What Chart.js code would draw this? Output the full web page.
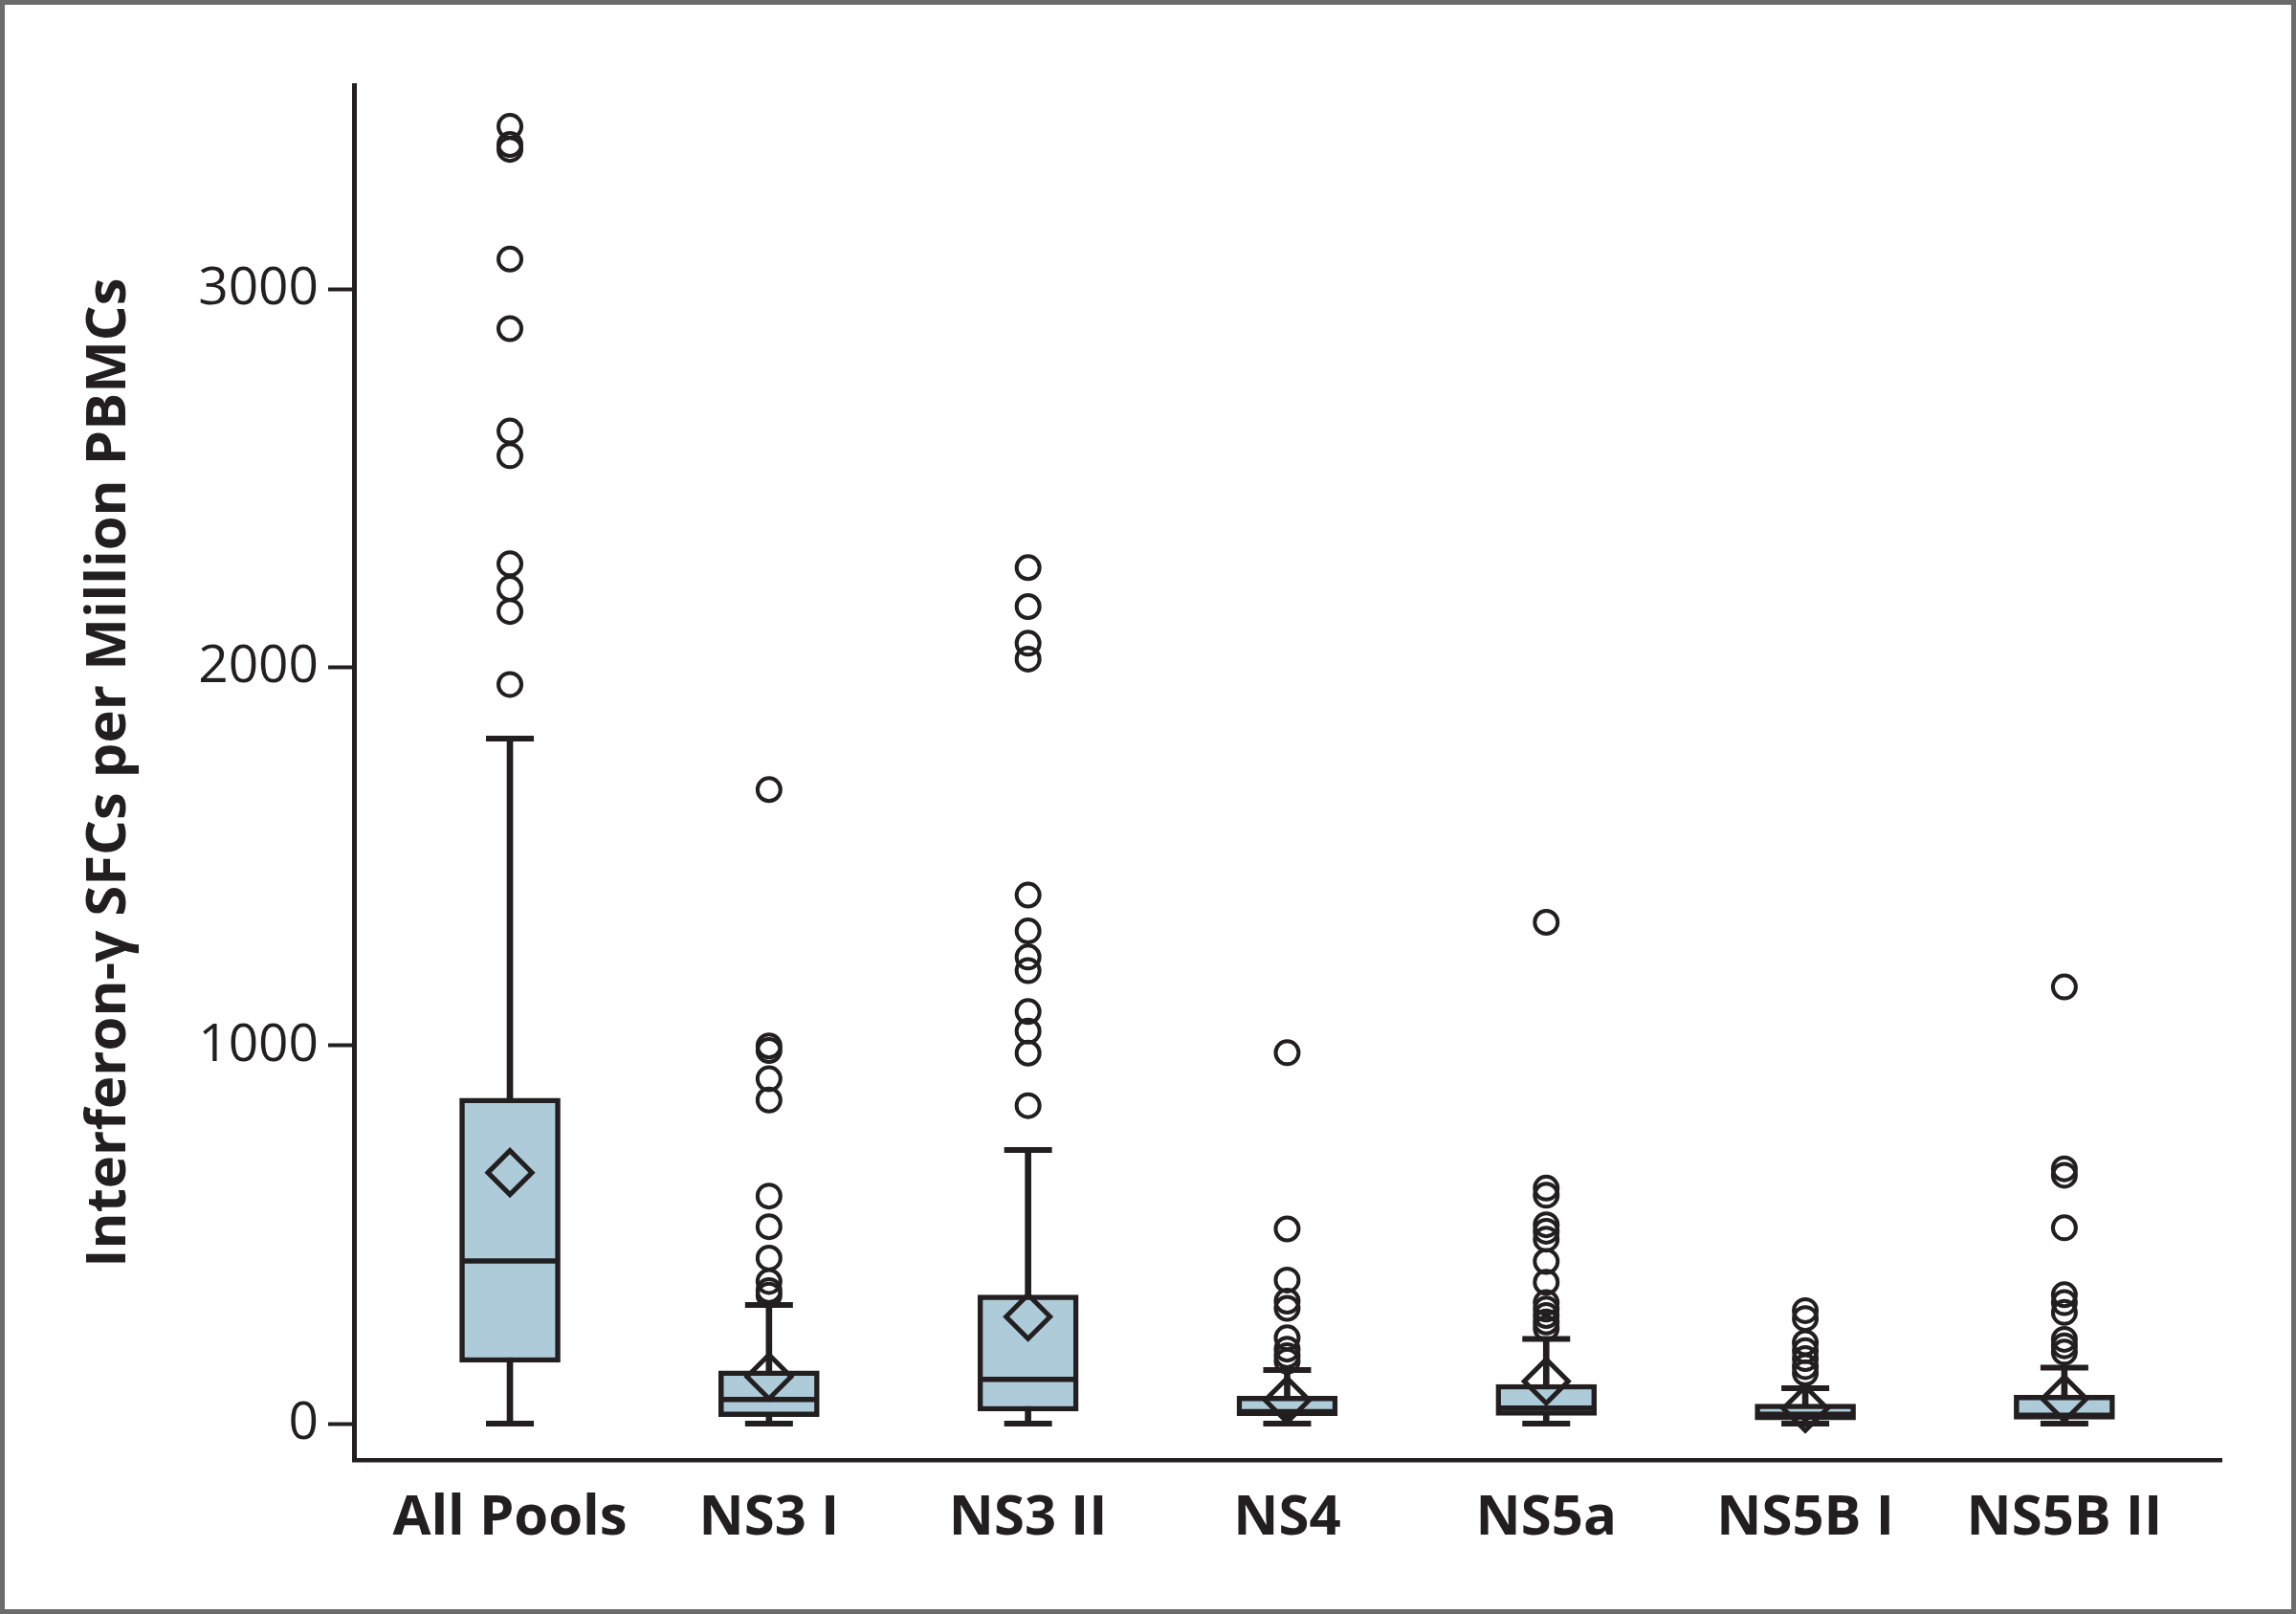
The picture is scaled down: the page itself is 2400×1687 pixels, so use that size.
<!DOCTYPE html>
<html>
<head>
<meta charset="utf-8">
<script src="https://cdn.jsdelivr.net/npm/chart.js@4.4.1/dist/chart.umd.min.js"></script>
<style>
	html, body { margin: 0; padding: 0; background: #fff; }
	#frame { width: 2400px; height: 1687px; box-sizing: border-box; border: 5px solid #6b6b6b; background: #fff; }
	#wrap { position: relative; width: 2390px; height: 1677px; }
</style>
</head>
<body>
<div id="frame"><div id="wrap"><canvas id="chart"></canvas></div></div>
<script>
// values
const categories = ["All Pools", "NS3 I", "NS3 II", "NS4", "NS5a", "NS5B I", "NS5B II"];
const yTicks = [0, 1000, 2000, 3000];

const whiskerLow = [0, 0, 0, 0, 0, 0, 0];
const q1 = [162, 19, 33, 21, 22, 10, 12];
const medians = [430, 64, 117, 32, 41, 25, 22];
const q3 = [861, 140, 340, 73, 104, 52, 75];
const whiskerHigh = [1812, 314, 724, 142, 224, 94, 148];
const means = [664, 124, 283, 62, 112, 40, 66];

const outAllPools = [3431, 3383, 3370, 3080, 2896, 2625, 2560, 2274, 2209, 2148, 1955];
const outNS3I = [1677, 999, 987, 912, 856, 602, 521, 438, 376, 352, 340];
const outNS3II = [2264, 2161, 2064, 2022, 1398, 1303, 1234, 1198, 1090, 1038, 980, 841];
const outNS4 = [981, 515, 380, 324, 305, 227, 197, 180, 165];
const outNS5a = [1326, 623, 604, 526, 509, 488, 429, 374, 320, 303, 286, 269, 252];
const outNS5BI = [299, 278, 214, 193, 172, 151, 134];
const outNS5BII = [1155, 674, 657, 518, 341, 320, 294, 223, 206, 189];

const outliers = [outAllPools, outNS3I, outNS3II, outNS4, outNS5a, outNS5BI, outNS5BII];

const ink = "#231f20";
const boxFill = "#adcbd9";
const clear = "rgba(0,0,0,0)";

const pointsOf = (values) => values.map((v, i) => ({ x: i, y: v }));

const outlierPoints = [];
outliers.forEach((list, i) => {
	list.forEach((v) => outlierPoints.push({ x: i, y: v }));
});

const pointSet = (data, style, radius, width, order) => ({
	type: "scatter",
	data: data,
	pointStyle: style,
	pointRadius: radius,
	pointHoverRadius: radius,
	pointBorderWidth: width,
	pointHoverBorderWidth: width,
	pointBorderColor: ink,
	pointBackgroundColor: clear,
	order: order,
});

const context = document.getElementById("chart").getContext("2d");

const chart = new Chart(context, {
	type: "scatter",
	data: {
		datasets: [
			{
				type: "bar",
				data: categories.map((c, i) => ({ x: i, y: [whiskerLow[i], whiskerHigh[i]] })),
				backgroundColor: ink,
				borderWidth: 0,
				barThickness: 6,
				grouped: false,
				order: 6,
			},
			{
				type: "bar",
				data: categories.map((c, i) => ({ x: i, y: [q1[i], q3[i]] })),
				backgroundColor: boxFill,
				borderColor: ink,
				borderWidth: 5.5,
				borderSkipped: false,
				barThickness: 105,
				grouped: false,
				order: 5,
			},
			pointSet(pointsOf(medians), "line", 50, 5.5, 4),
			pointSet([...pointsOf(whiskerLow), ...pointsOf(whiskerHigh)], "line", 25, 6, 3),
			pointSet(pointsOf(means), "rectRot", 23, 5, 2),
			pointSet(outlierPoints, "circle", 12, 4, 1),
		],
	},
	options: {
		responsive: true,
		maintainAspectRatio: false,
		devicePixelRatio: 1,
		animation: false,
		events: [],
		layout: { padding: { top: 84, right: 73, left: 0, bottom: 0 } },
		plugins: {
			legend: { display: false },
			tooltip: { enabled: false },
		},
		scales: {
			x: {
				type: "linear",
				min: -0.602,
				max: 6.606,
				offset: false,
				grid: { drawOnChartArea: false, drawTicks: false, offset: false },
				border: { display: true, color: ink, width: 4.5 },
				afterBuildTicks: (axis) => {
					axis.ticks = categories.map((c, i) => ({ value: i }));
				},
				afterFit: (scale) => {
					scale.height = 156;
				},
				ticks: {
					autoSkip: false,
					maxRotation: 0,
					padding: 27,
					color: ink,
					font: { family: "'Open Sans'", size: 58, weight: "bold" },
					callback: (value) => categories[value],
				},
			},
			y: {
				type: "linear",
				min: -96,
				max: 3540,
				grid: {
					drawOnChartArea: false,
					drawTicks: true,
					tickLength: 27,
					tickWidth: 4,
					tickColor: ink,
				},
				border: { display: true, color: ink, width: 5 },
				afterBuildTicks: (axis) => {
					axis.ticks = yTicks.map((v) => ({ value: v }));
				},
				afterFit: (scale) => {
					scale.width = 365;
				},
				ticks: {
					padding: 10,
					color: ink,
					font: { family: "'Open Sans'", size: 55 },
					callback: (value) => String(value),
				},
				title: {
					display: true,
					text: "Interferon-γ SFCs per Million PBMCs",
					color: ink,
					padding: { top: 75, bottom: 0 },
					font: { family: "'Open Sans'", size: 58, weight: "bold" },
				},
			},
		},
	},
});
</script>
</body>
</html>
